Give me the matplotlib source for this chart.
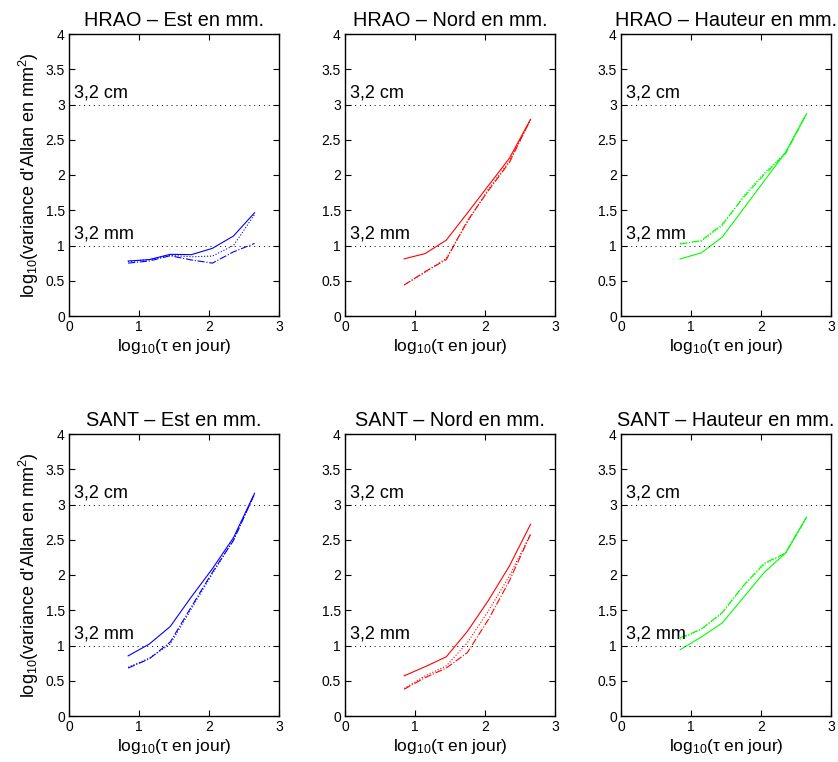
import numpy as np
import matplotlib as mpl
mpl.use('Agg')
import matplotlib.pyplot as plt

plt.rcParams['font.family'] = ['Liberation Sans', 'DejaVu Sans']
plt.rcParams['mathtext.fontset'] = 'custom'
plt.rcParams['mathtext.rm'] = 'Liberation Sans'
plt.rcParams['mathtext.it'] = 'Liberation Sans'

# log10(tau) en jour: 7, 14, 28, ... 448 jours
log_tau = [0.845, 1.146, 1.447, 1.748, 2.049, 2.350, 2.651]

stations = ["HRAO", "SANT"]
composantes = ["Est", "Nord", "Hauteur"]
couleurs = ["#0000ff", "#ff0000", "#00ff00"]

# trois courbes par panneau : trait plein, tiret-point, pointillé
hrao_est_plein = [0.78, 0.80, 0.875, 0.87, 0.96, 1.135, 1.465]
hrao_est_tiret = [0.75, 0.78, 0.855, 0.795, 0.75, 0.91, 1.03]
hrao_est_point = [0.77, 0.80, 0.86, 0.84, 0.85, 1.00, 1.44]

hrao_nord_plein = [0.81, 0.886, 1.076, 1.46, 1.85, 2.24, 2.79]
hrao_nord_tiret = [0.44, 0.63, 0.80, 1.35, 1.78, 2.18, 2.79]
hrao_nord_point = [0.44, 0.62, 0.82, 1.33, 1.80, 2.20, 2.78]

hrao_haut_plein = [0.81, 0.895, 1.12, 1.52, 1.92, 2.32, 2.87]
hrao_haut_tiret = [1.02, 1.07, 1.30, 1.68, 2.01, 2.30, 2.87]
hrao_haut_point = [1.03, 1.06, 1.28, 1.70, 2.03, 2.32, 2.87]

sant_est_plein = [0.853, 1.02, 1.27, 1.69, 2.09, 2.53, 3.16]
sant_est_tiret = [0.68, 0.81, 1.05, 1.55, 2.04, 2.49, 3.15]
sant_est_point = [0.69, 0.82, 1.02, 1.52, 2.02, 2.50, 3.15]

sant_nord_plein = [0.57, 0.70, 0.84, 1.20, 1.64, 2.13, 2.72]
sant_nord_tiret = [0.38, 0.545, 0.68, 0.90, 1.37, 1.92, 2.58]
sant_nord_point = [0.39, 0.57, 0.71, 1.04, 1.49, 1.99, 2.58]

sant_haut_plein = [0.94, 1.12, 1.32, 1.68, 2.04, 2.31, 2.82]
sant_haut_tiret = [1.11, 1.23, 1.47, 1.85, 2.17, 2.31, 2.82]
sant_haut_point = [1.09, 1.23, 1.46, 1.84, 2.15, 2.31, 2.82]

donnees = [
    [(hrao_est_plein, hrao_est_tiret, hrao_est_point),
     (hrao_nord_plein, hrao_nord_tiret, hrao_nord_point),
     (hrao_haut_plein, hrao_haut_tiret, hrao_haut_point)],
    [(sant_est_plein, sant_est_tiret, sant_est_point),
     (sant_nord_plein, sant_nord_tiret, sant_nord_point),
     (sant_haut_plein, sant_haut_tiret, sant_haut_point)],
]

fig = plt.figure(figsize=(8.38, 7.62), dpi=100)

lefts = [69, 345, 621]
tops = [34, 434]
w, h = 210, 282

for i in range(2):
    for j in range(3):
        ax = fig.add_axes([lefts[j] / 838, 1 - (tops[i] + h) / 762, w / 838, h / 762])
        plein, tiret, point = donnees[i][j]
        c = couleurs[j]
        ax.plot(log_tau, plein, '-', color=c, lw=0.8)
        ax.plot(log_tau, tiret, '-.', color=c, lw=0.8)
        ax.plot(log_tau, point, ':', color=c, lw=0.8)

        ax.axhline(1, color='k', ls=(0, (1, 4)), lw=0.7)
        ax.axhline(3, color='k', ls=(0, (1, 4)), lw=0.7)
        ax.text(0.07, 1.1, "3,2 mm", fontsize=13)
        ax.text(0.07, 3.1, "3,2 cm", fontsize=13)

        ax.set_xlim(0, 3)
        ax.set_ylim(0, 4)
        ax.set_xticks([0, 1, 2, 3])
        ax.set_yticks([0, 0.5, 1, 1.5, 2, 2.5, 3, 3.5, 4])
        ax.set_yticklabels(["0", "0.5", "1", "1.5", "2", "2.5", "3", "3.5", "4"])
        ax.tick_params(direction='in', top=True, right=True, length=4,
                       width=0.8, labelsize=10, pad=3)
        for s in ax.spines.values():
            s.set_linewidth(1.0)

        ax.set_title(stations[i] + " \u2013 " + composantes[j] + " en mm.",
                     fontsize=14.3, pad=6)
        ax.set_xlabel(r"log$_{10}$($\tau$ en jour)", fontsize=12.5, labelpad=2)
        if j == 0:
            ax.set_ylabel(r"log$_{10}$(variance d'Allan en mm$^2$)",
                          fontsize=13, labelpad=3)

plt.savefig("out.png", dpi=100)
